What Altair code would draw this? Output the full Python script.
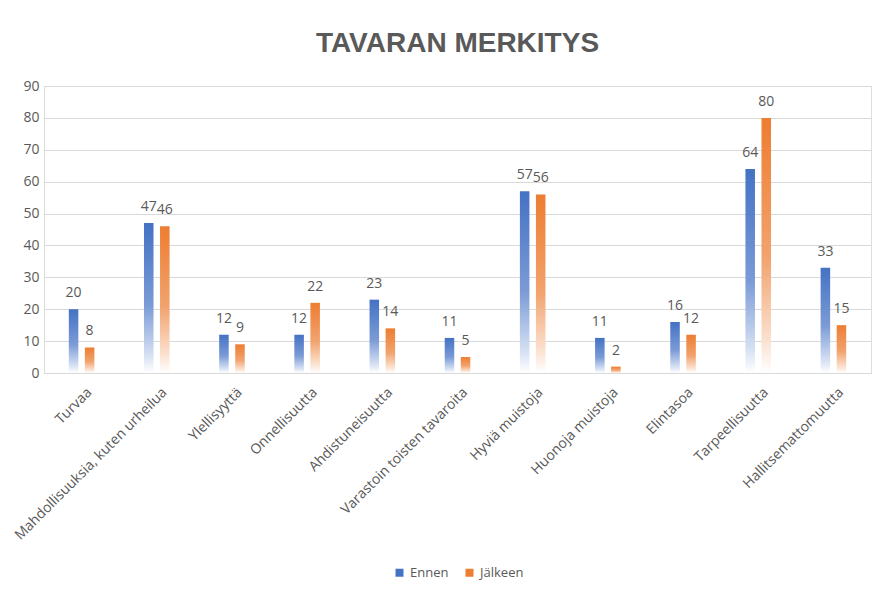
import altair as alt
import pandas as pd

categories = ["Turvaa", "Mahdollisuuksia, kuten urheilua", "Ylellisyyttä", "Onnellisuutta",
              "Ahdistuneisuutta", "Varastoin toisten tavaroita", "Hyviä muistoja",
              "Huonoja muistoja", "Elintasoa", "Tarpeellisuutta", "Hallitsemattomuutta"]
ennen = [20, 47, 12, 12, 23, 11, 57, 11, 16, 64, 33]
jalkeen = [8, 46, 9, 22, 14, 5, 56, 2, 12, 80, 15]
series = ["Ennen", "Jälkeen"]
colors = ["#4472C4", "#ED7D31"]
y_ticks = [0, 10, 20, 30, 40, 50, 60, 70, 80, 90]

rows = []
for c, a, b in zip(categories, ennen, jalkeen):
    rows.append({"cat": c, "series": series[0], "value": a})
    rows.append({"cat": c, "series": series[1], "value": b})
df = pd.DataFrame(rows)

FONT = "Open Sans"
GRAY = "#595959"


def grad(c, mid, light):
    return {"gradient": "linear", "x1": 0, "y1": 0, "x2": 0, "y2": 1,
            "stops": [{"offset": 0, "color": c},
                      {"offset": 0.55, "color": mid},
                      {"offset": 0.88, "color": light},
                      {"offset": 1, "color": "#ffffff"}]}


grads = [grad("#4472C4", "#7B9BD6", "#D5E0F3"), grad("#ED7D31", "#F2A36E", "#FBE3D2")]

x_enc = alt.X("cat:N", sort=categories, title=None,
              scale=alt.Scale(paddingInner=0.573, paddingOuter=0.2865),
              axis=alt.Axis(labelAngle=-45, labelAlign="right", labelBaseline="middle",
                            labelOffset=8, labelPadding=17, ticks=False, labelLimit=0,
                            domainColor="#D9D9D9", labelColor=GRAY, labelFontSize=14,
                            labelFont=FONT, grid=False))
xo_enc = alt.XOffset("series:N", scale=alt.Scale(domain=series, paddingInner=0.406, paddingOuter=0.203))
y_enc = alt.Y("value:Q", title=None,
              scale=alt.Scale(domain=[0, 90], nice=False),
              axis=alt.Axis(values=y_ticks, domain=False, ticks=False, labelPadding=5,
                            gridColor="#D9D9D9", labelColor=GRAY, labelFontSize=14,
                            labelFont=FONT))

base = alt.Chart(df).mark_bar(opacity=0).encode(
    x=x_enc, xOffset=xo_enc, y=y_enc,
    color=alt.Color("series:N", scale=alt.Scale(domain=series, range=colors), title=None,
                    legend=alt.Legend(orient="none", legendX=349, legendY=480,
                                      direction="horizontal", symbolType="square",
                                      symbolSize=64, symbolOpacity=1, symbolStrokeWidth=0,
                                      labelFontSize=13, labelColor=GRAY, labelFont=FONT,
                                      columnPadding=14, labelOffset=4, padding=0))
)

layers = [base]
for s, g in zip(series, grads):
    layers.append(
        alt.Chart(df).transform_filter(alt.datum.series == s).mark_bar(fill=g).encode(
            x=x_enc, xOffset=xo_enc, y=y_enc)
    )

text = alt.Chart(df).mark_text(baseline="bottom", dy=-9, fontSize=14, color=GRAY, font=FONT).encode(
    x=x_enc, xOffset=xo_enc, y=y_enc, text="value:Q")
layers.append(text)

chart = alt.layer(*layers).properties(
    width=827, height=287,
    autosize=alt.AutoSizeParams(type="none"),
    padding={"left": 36, "top": 78, "right": 10, "bottom": 210},
    title=alt.TitleParams("TAVARAN MERKITYS", font="Liberation Sans", fontSize=28,
                          fontWeight="bold", color=GRAY, anchor="middle", offset=21),
).configure_view(stroke=None).configure(background="white")

chart.save("out.html", embed_options={"renderer": "svg", "actions": False})
